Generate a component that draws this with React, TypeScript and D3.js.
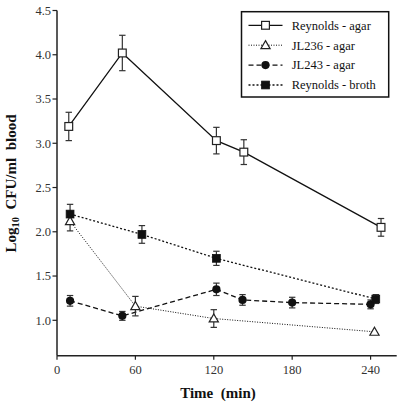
import React from "react";
import * as d3 from "d3";

const reyAgarT = [9, 50, 122, 143, 248];
const reyAgarV = [3.19, 4.02, 3.03, 2.9, 2.05];
const reyAgarE = [0.16, 0.2, 0.15, 0.14, 0.1];

const jl236T = [10, 60, 120, 243];
const jl236V = [2.12, 1.16, 1.02, 0.87];
const jl236E = [0.11, 0.11, 0.1, 0];

const jl243T = [10, 50, 122, 142, 180, 240];
const jl243V = [1.22, 1.05, 1.35, 1.23, 1.2, 1.18];
const jl243E = [0.06, 0.05, 0.07, 0.06, 0.06, 0.05];

const reyBrothT = [10, 65, 122, 244];
const reyBrothV = [2.2, 1.97, 1.7, 1.24];
const reyBrothE = [0.11, 0.1, 0.08, 0.05];

const xTicks = [0, 60, 120, 180, 240];
const yTicks = [1.0, 1.5, 2.0, 2.5, 3.0, 3.5, 4.0, 4.5];

const legendLabels = ["Reynolds - agar", "JL236 - agar", "JL243 - agar", "Reynolds - broth"];

type Pt = { t: number; v: number; e: number };
const zip = (t: number[], v: number[], e: number[]): Pt[] => t.map((tt, i) => ({ t: tt, v: v[i], e: e[i] }));

const series = [
  { name: legendLabels[0], data: zip(reyAgarT, reyAgarV, reyAgarE), dash: "", width: 1.3, marker: "openSquare" },
  { name: legendLabels[1], data: zip(jl236T, jl236V, jl236E), dash: "1,1.5", width: 1, marker: "openTriangle" },
  { name: legendLabels[2], data: zip(jl243T, jl243V, jl243E), dash: "5,3", width: 1.3, marker: "circle" },
  { name: legendLabels[3], data: zip(reyBrothT, reyBrothV, reyBrothE), dash: "2,2", width: 1.3, marker: "filledSquare" },
];

const fs = { fontFamily: "'Liberation Serif'" };

function Marker({ kind, cx, cy }: { kind: string; cx: number; cy: number }) {
  const h = 3.9;
  if (kind === "openSquare")
    return <rect x={cx - h} y={cy - h} width={2 * h} height={2 * h} fill="#fff" stroke="#222" strokeWidth={1.2} />;
  if (kind === "filledSquare")
    return <rect x={cx - h} y={cy - h} width={2 * h} height={2 * h} fill="#111" stroke="#111" strokeWidth={0.8} />;
  if (kind === "circle") return <circle cx={cx} cy={cy} r={4.1} fill="#111" />;
  const s = 4.6;
  return (
    <path
      d={`M${cx},${cy - s} L${cx + s},${cy + s * 0.75} L${cx - s},${cy + s * 0.75} Z`}
      fill="#fff"
      stroke="#222"
      strokeWidth={1.2}
    />
  );
}

export default function App() {
  const x = d3.scaleLinear().domain([0, 260]).range([57, 396.7]);
  const y = d3.scaleLinear().domain([0.6, 4.5]).range([355.7, 10.5]);
  const line = d3
    .line<Pt>()
    .x((d) => x(d.t))
    .y((d) => y(d.v));

  const axisColor = "#222";
  const textColor = "#333";

  return (
    <svg width={405} height={405} style={{ position: "absolute", left: 0, top: 0, background: "#fff" }}>
      <rect width={405} height={405} fill="#fff" />
      {/* axes */}
      <line x1={57} x2={57} y1={y(4.5)} y2={y(0.6)} stroke={axisColor} strokeWidth={1.5} />
      <line x1={57} x2={x(260)} y1={y(0.6)} y2={y(0.6)} stroke={axisColor} strokeWidth={1.5} />
      {yTicks.map((t) => (
        <g key={"y" + t}>
          <line x1={52.5} x2={57} y1={y(t)} y2={y(t)} stroke={axisColor} strokeWidth={1.2} />
          <text x={51} y={y(t)} dy="0.35em" textAnchor="end" fontSize={12.5} fill={textColor} style={fs}>
            {d3.format(".1f")(t)}
          </text>
        </g>
      ))}
      {xTicks.map((t) => (
        <g key={"x" + t}>
          <line x1={x(t)} x2={x(t)} y1={y(0.6)} y2={y(0.6) + 4} stroke={axisColor} strokeWidth={1.2} />
          <text x={x(t)} y={373.5} textAnchor="middle" fontSize={12.5} fill={textColor} style={fs}>
            {t}
          </text>
        </g>
      ))}
      <text
        x={218}
        y={398}
        textAnchor="middle"
        fontSize={15}
        fontWeight="bold"
        fill="#111"
        style={{ ...fs, whiteSpace: "pre" }}
      >
        {"Time  (min)"}
      </text>
      <text
        transform={`translate(15.5,183.5) rotate(-90)`}
        textAnchor="middle"
        fontSize={15}
        fontWeight="bold"
        fill="#111"
        style={{ ...fs, whiteSpace: "pre" }}
      >
        Log<tspan fontSize={10.5} dy={3.5}>10</tspan>
        <tspan dy={-3.5}>{"  CFU/ml  blood"}</tspan>
      </text>

      {/* lines */}
      {series.map((s) => (
        <path
          key={"l" + s.name}
          d={line(s.data) || ""}
          fill="none"
          stroke="#111"
          strokeWidth={s.width}
          strokeDasharray={s.dash}
        />
      ))}
      {/* error bars */}
      {series.map((s) =>
        s.data
          .filter((d) => d.e > 0)
          .map((d, i) => (
            <g key={"e" + s.name + i} stroke="#333" strokeWidth={1.2}>
              <line x1={x(d.t)} x2={x(d.t)} y1={y(d.v + d.e)} y2={y(d.v - d.e)} />
              <line x1={x(d.t) - 3.2} x2={x(d.t) + 3.2} y1={y(d.v + d.e)} y2={y(d.v + d.e)} />
              <line x1={x(d.t) - 3.2} x2={x(d.t) + 3.2} y1={y(d.v - d.e)} y2={y(d.v - d.e)} />
            </g>
          ))
      )}
      {/* markers */}
      {series.map((s) =>
        s.data.map((d, i) => <Marker key={"m" + s.name + i} kind={s.marker} cx={x(d.t)} cy={y(d.v)} />)
      )}

      {/* legend */}
      <g>
        <rect x={241.5} y={11.7} width={147.2} height={85.3} fill="#fff" stroke="#111" strokeWidth={1.5} />
        {series.map((s, i) => {
          const ly = 25.3 + i * 19.9;
          return (
            <g key={"lg" + s.name}>
              <line x1={248.5} x2={282.5} y1={ly} y2={ly} stroke="#111" strokeWidth={s.width} strokeDasharray={s.dash} />
              <Marker kind={s.marker} cx={265.5} cy={ly} />
              <text x={291.7} y={ly} dy="0.35em" fontSize={12.5} fill="#111" style={fs}>
                {s.name}
              </text>
            </g>
          );
        })}
      </g>
    </svg>
  );
}
